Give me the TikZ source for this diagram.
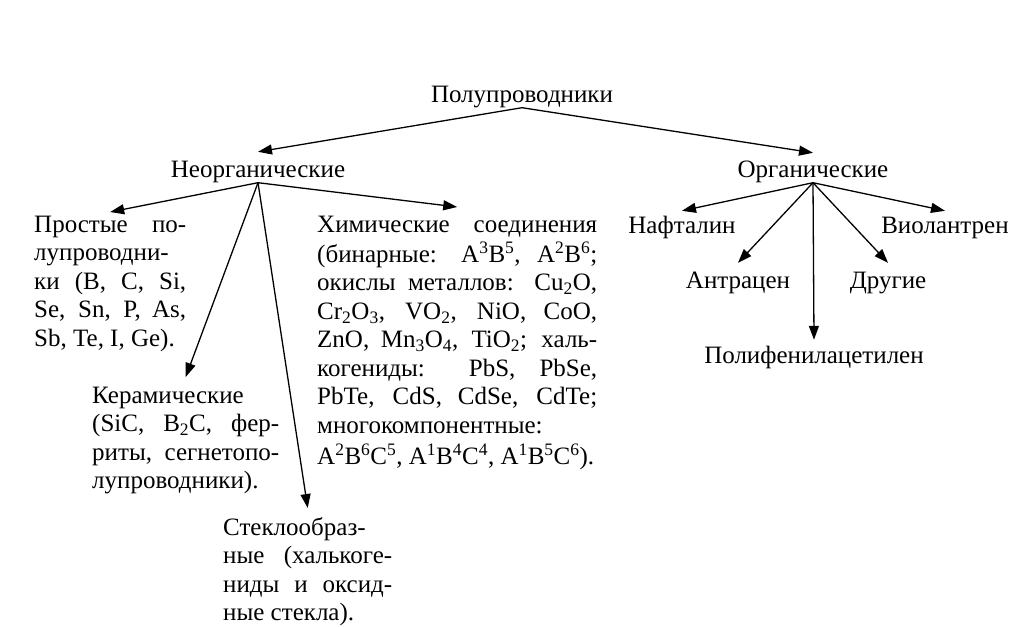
\documentclass[tikz,border=0pt]{standalone}
\usepackage{fontspec}
\setmainfont{Liberation Serif}
\usetikzlibrary{arrows.meta}
\hyphenpenalty=10000
\tolerance=10000
\hbadness=10000

\begin{document}
\begin{tikzpicture}[x=1pt,y=-1pt]
    \providecommand{\labelfontsize}{\fontsize{25pt}{28.5pt}\selectfont}
    \tikzset{
        term/.style={font=\labelfontsize,inner sep=0,anchor=base,text height=17pt,text depth=5.5pt},
        textblock/.style={font=\labelfontsize,inner sep=0,anchor=north west,text width=#1,align=justify},
        arr/.style={line width=1.3pt,-{Triangle[length=14pt,width=10pt]}}
    }
    \useasboundingbox (0,0) rectangle (1019,626);
    % top level
    \node[term] (semi) at (522,102) {Полупроводники};
    \node[term] (inorg) at (258,177) {Неорганические};
    \node[term] (org) at (813,177) {Органические};
    % inorganic branch
    \node[textblock=152pt] (simple) at (34,212) {\noindent\strut Простые по-\linebreak лупроводни-\\ ки (B, C, Si,\linebreak Se, Sn, P, As,\linebreak Sb, Te, I, Ge).\par};
    \node[textblock=187pt] (ceramic) at (92,383) {\noindent\strut Керамические\\ (SiC, B\textsubscript{2}C, фер-\linebreak риты, сегнетопо-\linebreak лупроводники).\par};
    \node[textblock=169pt] (glass) at (223,515) {\noindent\strut Стеклообраз-\\ ные (халькоге-\linebreak ниды и оксид-\linebreak ные стекла).\par};
    \node[textblock=280pt] (compound) at (317,212) {\noindent\strut Химические соединения\linebreak
        (бинарные: A\textsuperscript{3}B\textsuperscript{5}, A\textsuperscript{2}B\textsuperscript{6};\linebreak
        окислы металлов: Cu\textsubscript{2}O,\linebreak
        Cr\textsubscript{2}O\textsubscript{3}, VO\textsubscript{2}, NiO, CoO,\linebreak
        ZnO, Mn\textsubscript{3}O\textsubscript{4}, TiO\textsubscript{2}; халь-\linebreak
        когениды: PbS, PbSe,\linebreak
        PbTe, CdS, CdSe, CdTe;\linebreak
        многокомпонентные:\\[3pt]
        A\textsuperscript{2}B\textsuperscript{6}C\textsuperscript{5}, A\textsuperscript{1}B\textsuperscript{4}C\textsuperscript{4}, A\textsuperscript{1}B\textsuperscript{5}C\textsuperscript{6}).\par};
    % organic branch
    \node[term] (naph) at (682,233) {Нафталин};
    \node[term] (viol) at (945,233) {Виолантрен};
    \node[term] (anth) at (738,288) {Антрацен};
    \node[term] (other) at (888,288) {Другие};
    \node[term] (polyph) at (814,363) {Полифенилацетилен};
    % connectors
    \draw[arr] (semi.south) -- ([yshift=8pt]inorg.north);
    \draw[arr] (semi.south) -- ([yshift=7pt]org.north);
    \draw[arr] (inorg.south) -- (simple.north);
    \draw[arr] (inorg.south) -- ([yshift=5pt]compound.north);
    \draw[arr] (inorg.south) -- ([yshift=6pt]ceramic.north);
    \draw[arr] (inorg.south) -- ([yshift=7pt]glass.north);
    \draw[arr] (org.south) -- ([yshift=5pt]naph.north);
    \draw[arr] (org.south) -- ([yshift=5pt]viol.north);
    \draw[arr] (org.south) -- ([yshift=8pt]anth.north);
    \draw[arr] (org.south) -- ([yshift=8pt]other.north);
    \draw[arr] (org.south) -- ([yshift=6pt]polyph.north);
\end{tikzpicture}
\end{document}
